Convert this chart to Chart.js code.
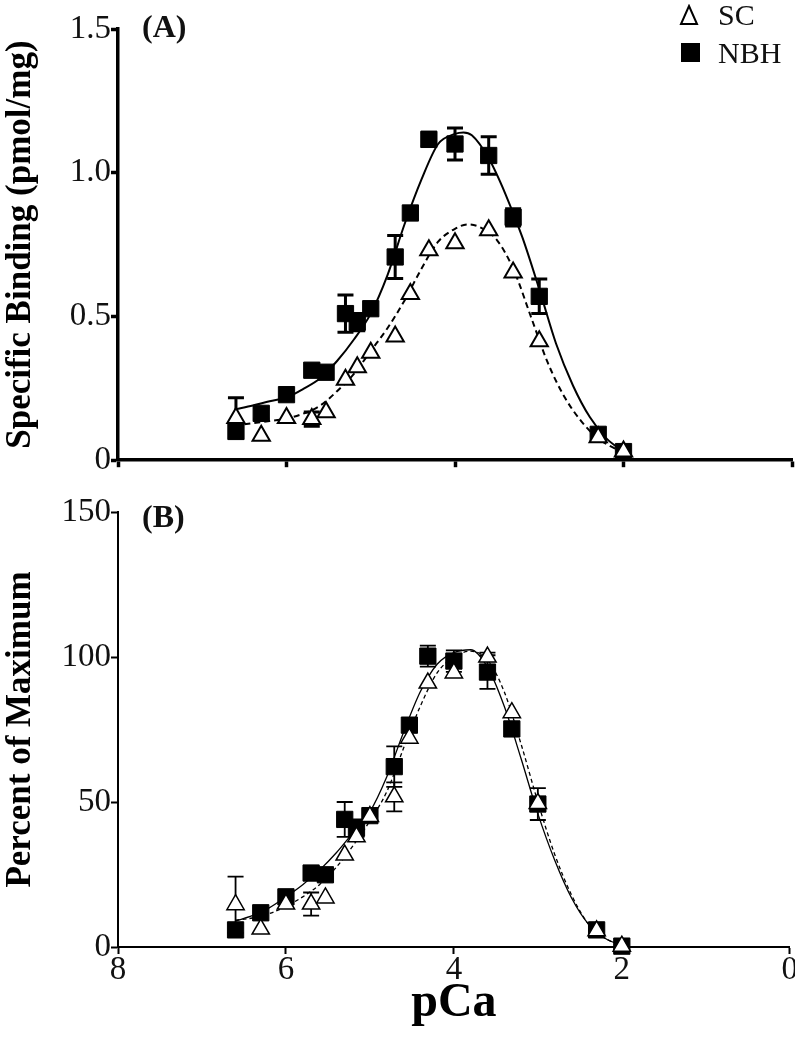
<!DOCTYPE html>
<html lang="en">
<head>
<meta charset="UTF-8">
<title>Specific binding vs pCa</title>
<script src="https://cdn.jsdelivr.net/npm/chart.js"></script>
<style>
  body { margin: 0; background: #fff; width: 795px; height: 1050px; overflow: hidden; position: relative; font-family: "Liberation Serif", "Times New Roman", serif; color: #111; }
  canvas { position: absolute; left: 0; }
  #chartA { top: 0; }
  #chartB { top: 480px; }
  .tag { position: absolute; left: 142px; font-weight: bold; font-size: 32px; line-height: 1; }
  .leg { position: absolute; font-size: 30px; line-height: 1; }
  .sym { position: absolute; }
</style>
</head>
<body>
<canvas id="chartA" width="795" height="480"></canvas>
<canvas id="chartB" width="795" height="570"></canvas>

<div class="tag" style="top:10px">(A)</div>
<div class="tag" style="top:500px">(B)</div>

<svg class="sym" style="left:679px;top:4px" width="20" height="22"><polygon points="10,2 18,20 2,20" fill="#fff" stroke="#000" stroke-width="2"/></svg>
<div class="leg" style="left:718px;top:0px">SC</div>
<svg class="sym" style="left:681px;top:43px" width="19" height="19"><rect x="0" y="0" width="19" height="19" fill="#000"/></svg>
<div class="leg" style="left:718px;top:38px">NBH</div>

<script>
// pCa values of the measured points
var pCa = [6.6, 6.3, 6.0, 5.7, 5.53, 5.3, 5.16, 5.0, 4.71, 4.53, 4.31, 4.0, 3.6, 3.31, 3.0, 2.3, 2.0];

// (A) specific binding, pmol/mg
var nbhBinding    = [0.10, 0.163, 0.228, 0.313, 0.306, 0.51, 0.48, 0.527, 0.707, 0.86, 1.116, 1.10, 1.06, 0.845, 0.57, 0.09, 0.03];
var nbhBindingErr = [0, 0.02, 0, 0, 0, 0.065, 0.03, 0, 0.075, 0, 0.025, 0.056, 0.065, 0.03, 0.06, 0, 0];
var scBinding     = [0.147, 0.085, 0.147, 0.143, 0.167, 0.28, 0.323, 0.374, 0.43, 0.578, 0.73, 0.755, 0.80, 0.653, 0.414, 0.08, 0.03];
var scBindingErr  = [0.07, 0, 0, 0.025, 0, 0, 0, 0, 0, 0, 0, 0, 0, 0, 0, 0, 0];

// (B) percent of maximum
var nbhPercent    = [5.9, 11.8, 17.3, 25.5, 24.9, 44, 41, 45.3, 62.2, 76.5, 100.3, 98.6, 94.8, 75.2, 49.3, 5.9, 0.3];
var nbhPercentErr = [0, 0, 0, 0, 0, 6, 3, 0, 7, 0, 3.6, 3.7, 5.8, 0, 5.5, 0, 0];
var scPercent     = [14.6, 6.2, 14.8, 14.8, 16.9, 31.7, 38, 45, 51.8, 72, 91, 94.5, 100, 80.8, 49.5, 5.6, 0.3];
var scPercentErr  = [9.7, 0, 0, 4, 0, 0, 0, 0, 5, 0, 0, 0, 1.5, 0, 0, 0, 0];

// fitted curves
var fitNbhA_x = [6.6, 6.4, 6.2, 6.0, 5.8, 5.6, 5.4, 5.2, 5.0, 4.8, 4.6, 4.4, 4.2, 4.0, 3.9, 3.8, 3.6, 3.4, 3.2, 3.0, 2.8, 2.6, 2.4, 2.2, 2.0];
var fitNbhA_y = [0.178, 0.19, 0.205, 0.218, 0.248, 0.285, 0.345, 0.42, 0.51, 0.645, 0.82, 0.975, 1.10, 1.135, 1.14, 1.13, 1.05, 0.925, 0.775, 0.595, 0.405, 0.26, 0.15, 0.075, 0.03];
var fitScA_x  = [6.5, 6.2, 6.0, 5.8, 5.6, 5.4, 5.2, 5.0, 4.8, 4.6, 4.4, 4.2, 4.0, 3.85, 3.7, 3.5, 3.3, 3.1, 2.9, 2.7, 2.5, 2.3, 2.1, 2.0];
var fitScA_y  = [0.125, 0.136, 0.145, 0.162, 0.19, 0.24, 0.30, 0.38, 0.46, 0.555, 0.665, 0.76, 0.805, 0.82, 0.81, 0.765, 0.66, 0.50, 0.34, 0.22, 0.135, 0.075, 0.04, 0.025];
var fitB_x    = [6.6, 6.4, 6.2, 6.0, 5.8, 5.6, 5.4, 5.2, 5.0, 4.8, 4.6, 4.4, 4.2, 4.0, 3.8, 3.6, 3.4, 3.2, 3.0, 2.8, 2.6, 2.4, 2.2, 2.0];
var fitNbhB_y = [9, 10.8, 13.5, 17.3, 21.5, 26.5, 32.5, 39.5, 46.6, 58.6, 74, 88, 97.5, 101.5, 102.5, 96.5, 83, 65, 46, 30, 17, 8, 3, 0.5];
var fitScB_y  = [9.3, 10, 11.5, 14, 17.3, 21.5, 27.5, 35, 43.5, 53.5, 68.5, 83, 94.5, 100, 102, 99, 88, 70, 50, 32, 18, 8, 3, 0.5];

// tick labels
var xTicks  = ['0', '2', '4', '6', '8'];
var yTicksA = ['0', '0.5', '1.0', '1.5'];
var yTicksB = ['0', '50', '100', '150'];

var serif = '"Liberation Serif", "Times New Roman", serif';

function pts(xs, ys) {
    return xs.map(function (x, i) { return { x: x, y: ys[i] }; });
}

// error bars drawn through the chart's own scales, under the markers
var errorBarPlugin = {
    id: 'errorBars',
    beforeDatasetsDraw: function (chart, args, opts) {
        var ctx = chart.ctx, xs = chart.scales.x, ys = chart.scales.y;
        chart.data.datasets.forEach(function (ds) {
            if (!ds.errorBars) return;
            ctx.save();
            ctx.strokeStyle = '#000';
            ctx.lineWidth = opts.lineWidth;
            ds.data.forEach(function (p, i) {
                var e = ds.errorBars[i];
                if (!e) return;
                var px = xs.getPixelForValue(p.x);
                var top = ys.getPixelForValue(p.y + e);
                var bot = ys.getPixelForValue(p.y - e);
                ctx.beginPath();
                ctx.moveTo(px, top); ctx.lineTo(px, bot);
                ctx.moveTo(px - opts.cap, top); ctx.lineTo(px + opts.cap, top);
                ctx.moveTo(px - opts.cap, bot); ctx.lineTo(px + opts.cap, bot);
                ctx.stroke();
            });
            ctx.restore();
        });
    }
};

function makeConfig(p) {
    return {
        type: 'scatter',
        data: {
            datasets: [{
                data: pts(pCa, p.sc), errorBars: p.scErr,
                pointStyle: 'triangle', pointRadius: 10, pointHoverRadius: 10,
                backgroundColor: '#fff', borderColor: '#000', borderWidth: p.mw, clip: false
            }, {
                data: pts(pCa, p.nbh), errorBars: p.nbhErr,
                pointStyle: 'rect', pointRadius: 11.5, pointHoverRadius: 11.5,
                backgroundColor: '#000', borderColor: '#000', borderWidth: 1, clip: false
            }, {
                data: pts(p.fitScX, p.fitSc), showLine: true, pointRadius: 0,
                borderColor: '#000', borderWidth: p.lw, borderDash: p.dash,
                tension: 0.4, cubicInterpolationMode: 'monotone', clip: false
            }, {
                data: pts(p.fitNbhX, p.fitNbh), showLine: true, pointRadius: 0,
                borderColor: '#000', borderWidth: p.lw,
                tension: 0.4, cubicInterpolationMode: 'monotone', clip: false
            }]
        },
        options: {
            responsive: false,
            animation: false,
            events: [],
            layout: { autoPadding: false, padding: { left: 0, right: 3, top: p.top, bottom: 0 } },
            plugins: {
                legend: { display: false },
                tooltip: { enabled: false },
                errorBars: { lineWidth: p.ew, cap: 8 }
            },
            scales: {
                x: {
                    type: 'linear', min: 0, max: 8, reverse: true,
                    afterFit: function (s) { s.height = p.xh; },
                    ticks: {
                        display: p.xLabels, stepSize: 2, padding: -3, color: '#111',
                        font: { family: serif, size: 33 },
                        callback: function (v) { return xTicks[v / 2]; }
                    },
                    grid: { drawOnChartArea: false, tickLength: 7, tickWidth: p.aw, tickColor: '#000' },
                    border: { display: true, color: '#000', width: p.aw },
                    title: {
                        display: p.xLabels, text: 'pCa', color: '#000',
                        font: { family: serif, size: 48, weight: 'bold' },
                        padding: { top: 0, bottom: 18 }
                    }
                },
                y: {
                    min: 0, max: p.ymax,
                    afterFit: function (s) { s.width = 118; },
                    ticks: {
                        stepSize: p.ymax / 3, padding: 0, color: '#111',
                        font: { family: serif, size: 33 },
                        callback: function (v, i) { return p.yTicks[i]; }
                    },
                    grid: { drawOnChartArea: false, tickLength: 7, tickWidth: p.aw, tickColor: '#000' },
                    border: { display: true, color: '#000', width: p.aw },
                    title: {
                        display: true, text: p.yTitle, color: '#000',
                        font: { family: serif, size: 35, weight: 'bold' },
                        padding: { top: 0, bottom: 0 }
                    }
                }
            }
        },
        plugins: [errorBarPlugin]
    };
}

new Chart(document.getElementById('chartA'), makeConfig({
    sc: scBinding, scErr: scBindingErr, nbh: nbhBinding, nbhErr: nbhBindingErr,
    fitScX: fitScA_x, fitSc: fitScA_y, fitNbhX: fitNbhA_x, fitNbh: fitNbhA_y,
    ymax: 1.5, yTicks: yTicksA, yTitle: 'Specific Binding (pmol/mg)',
    top: 29, xh: 10, xLabels: false, aw: 3.5, lw: 2, ew: 3, mw: 2, dash: [6, 4]
}));

new Chart(document.getElementById('chartB'), makeConfig({
    sc: scPercent, scErr: scPercentErr, nbh: nbhPercent, nbhErr: nbhPercentErr,
    fitScX: fitB_x, fitSc: fitScB_y, fitNbhX: fitB_x, fitNbh: fitNbhB_y,
    ymax: 150, yTicks: yTicksB, yTitle: 'Percent of Maximum',
    top: 32, xh: 103, xLabels: true, aw: 2, lw: 1.3, ew: 1.8, mw: 1.5, dash: [4, 3]
}));
</script>
</body>
</html>
